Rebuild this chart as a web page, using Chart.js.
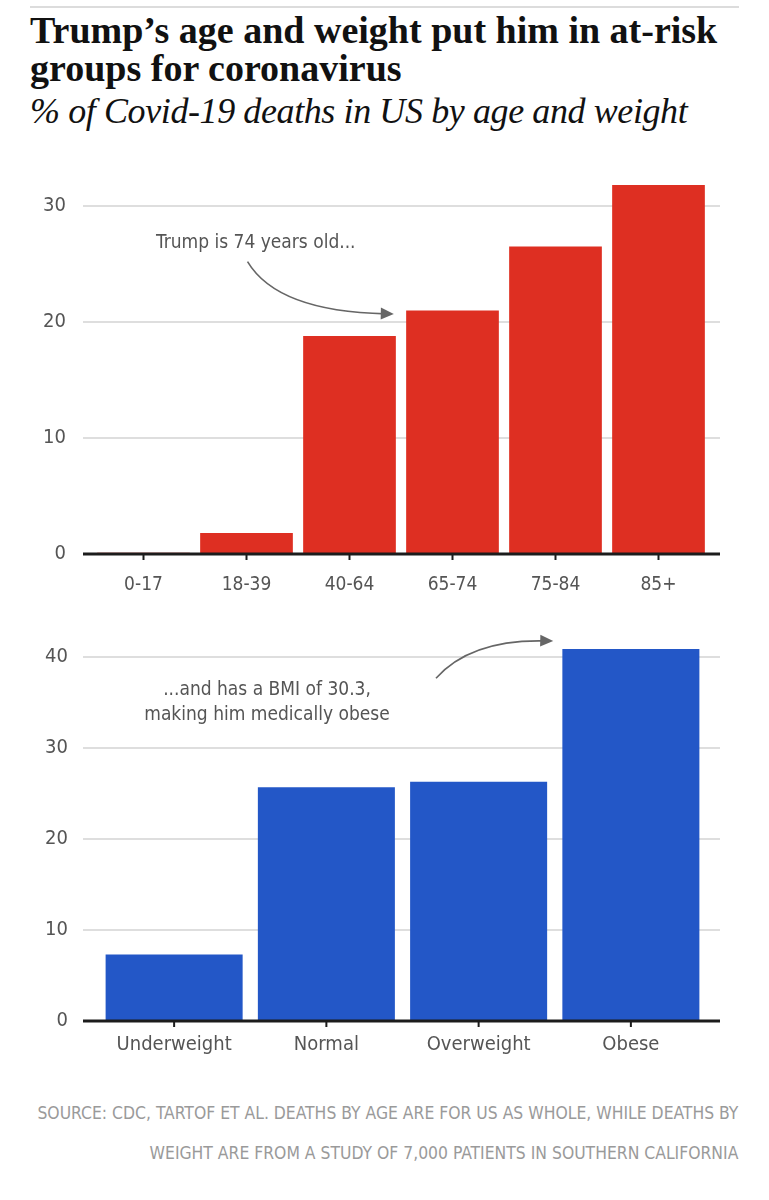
<!DOCTYPE html>
<html>
<head>
<meta charset="utf-8">
<script src="https://cdn.jsdelivr.net/npm/chart.js@4"></script>
<style>
  body { margin: 0; background: #fff; width: 769px; height: 1200px; position: relative; overflow: hidden; }
  .rule { position: absolute; left: 30px; top: 6px; width: 709px; border-top: 2px solid #dcdcdc; }
  .title { position: absolute; left: 30px; top: 11px; width: 740px; font-family: "Liberation Serif", serif; font-weight: bold;
           font-size: 38px; line-height: 38px; color: #111; letter-spacing: 0px; }
  .sub { position: absolute; left: 30px; top: 91px; font-family: "Liberation Serif", serif; font-style: italic;
         font-size: 36px; line-height: 40px; color: #111; letter-spacing: -0.4px; }
  .src { position: absolute; right: 31px; top: 1093px; text-align: right; font-family: "Liberation Sans Narrow", "DejaVu Sans Condensed", sans-serif;
         font-size: 18px; line-height: 40px; color: #9a9a9a; transform: scaleX(0.965); transform-origin: right top; white-space: nowrap; }
  canvas { position: absolute; left: 0; }
</style>
</head>
<body>
<div class="rule"></div>
<div class="title">Trump’s age and weight put him in at-risk<br>groups for coronavirus</div>
<div class="sub">% of Covid-19 deaths in US by age and weight</div>
<canvas id="ageChart" width="769" height="430" style="top:170px"></canvas>
<canvas id="bmiChart" width="769" height="450" style="top:620px"></canvas>
<div class="src">SOURCE: CDC, TARTOF ET AL. DEATHS BY AGE ARE FOR US AS WHOLE, WHILE DEATHS BY<br>WEIGHT ARE FROM A STUDY OF 7,000 PATIENTS IN SOUTHERN CALIFORNIA</div>

<script>
// 数据
const ageLabels = ['0-17', '18-39', '40-64', '65-74', '75-84', '85+'];
const ageDeaths = [0.1, 1.8, 18.8, 21.0, 26.5, 31.8];
const bmiLabels = ['Underweight', 'Normal', 'Overweight', 'Obese'];
const bmiDeaths = [7.3, 25.7, 26.3, 40.9];

const FONT = '"Liberation Sans Narrow", "DejaVu Sans Condensed", sans-serif';

/**
 * 网格线、零基线、刻度与注释
 */
const decorPlugin = {
  id: 'decor',
  beforeDatasetsDraw(chart, args, opts) {
    const { ctx } = chart;
    const y = chart.scales.y;
    ctx.save();
    ctx.strokeStyle = '#dedede';
    ctx.lineWidth = 2;
    y.ticks.forEach(t => {
      if (t.value === 0) return;
      const py = Math.round(y.getPixelForValue(t.value));
      ctx.beginPath();
      ctx.moveTo(opts.left, py);
      ctx.lineTo(opts.right, py);
      ctx.stroke();
    });
    ctx.restore();
  },
  afterDatasetsDraw(chart, args, opts) {
    const { ctx } = chart;
    const x = chart.scales.x, y = chart.scales.y;
    const base = y.getPixelForValue(0);
    ctx.save();
    ctx.strokeStyle = '#1c1c1c';
    ctx.lineWidth = 3;
    ctx.beginPath();
    ctx.moveTo(opts.left, base);
    ctx.lineTo(opts.right, base);
    ctx.stroke();
    ctx.lineWidth = 2;
    chart.data.labels.forEach((_, i) => {
      const px = x.getPixelForValue(i);
      ctx.beginPath();
      ctx.moveTo(px, base);
      ctx.lineTo(px, base + 6);
      ctx.stroke();
    });

    // 注释文字
    ctx.fillStyle = '#555';
    ctx.font = '19px ' + FONT;
    ctx.textAlign = 'center';
    ctx.textBaseline = 'middle';
    opts.note.lines.forEach((line, i) => {
      ctx.fillText(line, x.getPixelForValue(opts.note.x), y.getPixelForValue(opts.note.y[i]));
    });

    // 弯曲箭头
    const a = opts.arrow;
    const p0 = [x.getPixelForValue(a.from[0]), y.getPixelForValue(a.from[1])];
    const p1 = [x.getPixelForValue(a.ctrl[0]), y.getPixelForValue(a.ctrl[1])];
    const p2 = [x.getPixelForValue(a.to[0]), y.getPixelForValue(a.to[1])];
    ctx.strokeStyle = '#666';
    ctx.fillStyle = '#666';
    ctx.lineWidth = 1.6;
    ctx.beginPath();
    ctx.moveTo(p0[0], p0[1]);
    ctx.quadraticCurveTo(p1[0], p1[1], p2[0] - 8, p2[1]);
    ctx.stroke();
    const ang = Math.atan2(p2[1] - p1[1], p2[0] - p1[0]);
    ctx.translate(p2[0], p2[1]);
    ctx.rotate(ang);
    ctx.beginPath();
    ctx.moveTo(0, 0);
    ctx.lineTo(-13, -6);
    ctx.lineTo(-13, 6);
    ctx.closePath();
    ctx.fill();
    ctx.restore();
  }
};

/**
 * 创建柱状图
 */
function createBarChart(canvas, labels, values, cfg) {
  return new Chart(canvas, {
    type: 'bar',
    data: {
      labels,
      datasets: [{
        data: values,
        backgroundColor: cfg.color,
        borderWidth: 0,
        categoryPercentage: 1,
        barPercentage: cfg.barPct,
      }]
    },
    options: {
      responsive: false,
      animation: false,
      layout: { padding: { top: cfg.padTop, right: cfg.padRight, left: 0, bottom: 0 } },
      scales: {
        x: {
          grid: { display: false, drawTicks: false },
          border: { display: false },
          ticks: { color: '#555', font: { family: FONT, size: cfg.xFont }, padding: cfg.xPad, maxRotation: 0 },
          afterFit: s => { s.height = cfg.xHeight; s.paddingLeft = 0; s.paddingRight = 0; }
        },
        y: {
          min: 0,
          max: cfg.max,
          grid: { display: false, drawTicks: false },
          border: { display: false },
          ticks: { stepSize: 10, color: '#555', font: { family: FONT, size: 20 }, padding: cfg.yPad },
          afterBuildTicks: s => { s.ticks = s.ticks.filter(t => t.value % 10 === 0); },
          afterFit: s => { s.width = cfg.yWidth; s.paddingTop = 0; s.paddingBottom = 0; }
        }
      },
      plugins: {
        legend: { display: false },
        tooltip: { enabled: false },
        decor: { left: 83, right: 720, note: cfg.note, arrow: cfg.arrow }
      }
    },
    plugins: [decorPlugin]
  });
}

createBarChart(document.getElementById('ageChart'), ageLabels, ageDeaths, {
  color: '#de2f22', barPct: 0.9, max: 32.5, padTop: 7, padRight: 59,
  yWidth: 92, yPad: 26, xHeight: 46, xPad: 20, xFont: 19,
  note: { lines: ['Trump is 74 years old...'], x: 1.09, y: [26.8] },
  arrow: { from: [1.01, 25.2], ctrl: [1.3, 20.9], to: [2.43, 20.7] }
});

createBarChart(document.getElementById('bmiChart'), bmiLabels, bmiDeaths, {
  color: '#2357c7', barPct: 0.9, max: 43, padTop: 10, padRight: 62,
  yWidth: 98, yPad: 30, xHeight: 49, xPad: 12, xFont: 20,
  note: { lines: ['...and has a BMI of 30.3,', 'making him medically obese'], x: 0.61, y: [36.4, 33.6] },
  arrow: { from: [1.72, 37.7], ctrl: [1.95, 42.0], to: [2.49, 41.8] }
});
</script>
</body>
</html>
